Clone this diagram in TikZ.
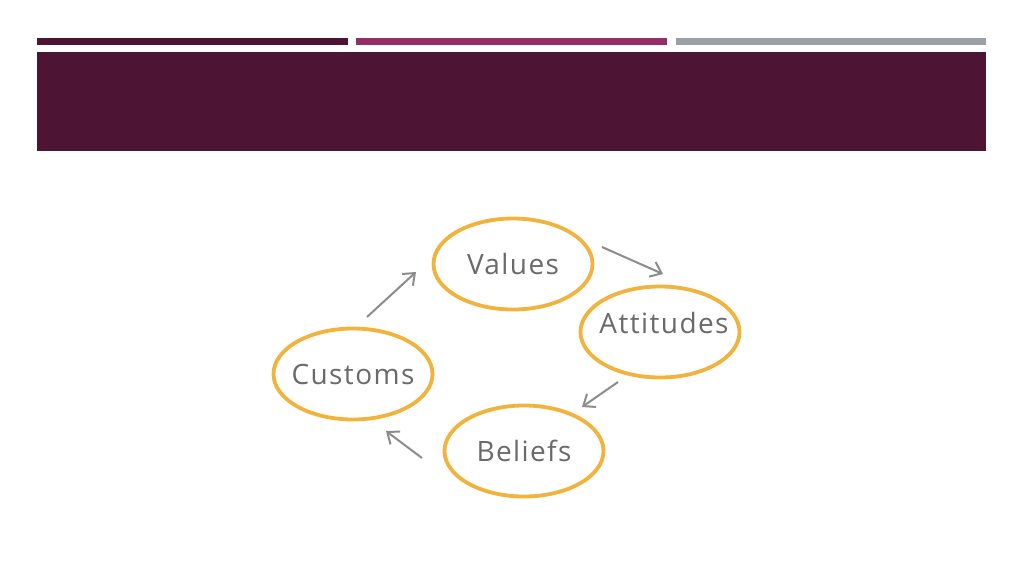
\documentclass[tikz,border=0pt]{standalone}
\usepackage{fontspec}
\setmainfont{Open Sans}[LetterSpace=5]
\usetikzlibrary{arrows.meta,shapes.geometric}
\definecolor{plum}{HTML}{4D1434}
\definecolor{berry}{HTML}{962D63}
\definecolor{slate}{HTML}{9AA0A3}
\definecolor{ring}{HTML}{F2B33D}
\definecolor{txt}{HTML}{6A6A6A}
\definecolor{arr}{HTML}{8C8C8C}
\tikzset{
  bubble/.style={ellipse, draw=ring, line width=3.8pt, minimum width=159pt, minimum height=91pt,
    inner xsep=-20pt, inner ysep=0pt, font=\fontsize{28}{30}\selectfont, text=txt},
  flow/.style={draw=arr, line width=2pt, -{Straight Barb[length=10pt,width=16pt,line width=2pt]}},
}
\begin{document}
\begin{tikzpicture}[x=1pt,y=-1pt]
\useasboundingbox (0,0) rectangle (1024,576);
\fill[white] (0,0) rectangle (1024,576);
\fill[plum] (37,38) rectangle (348,45);
\fill[berry] (356,38) rectangle (667,45);
\fill[slate] (676,38) rectangle (986,45);
\fill[plum] (37,52) rectangle (986,151);
\node[bubble] (val) at (513,264) {Values};
\node[bubble] (att) at (660,332) {};
\node[text=txt, font=\fontsize{28}{30}\selectfont, inner sep=0pt] (attl) at (664,323) {Attitudes};
\node[bubble] (bel) at (524,451) {Beliefs};
\node[bubble] (cus) at (353,374) {Customs};
\coordinate (a1) at (367,317); \coordinate (b1) at (416,272);
\coordinate (a2) at (602,247); \coordinate (b2) at (663,274);
\coordinate (a3) at (618,382); \coordinate (b3) at (582,407);
\coordinate (a4) at (422,458); \coordinate (b4) at (386,431);
\draw[flow] (a1) -- (b1);
\draw[flow] (a2) -- (b2);
\draw[flow] (a3) -- (b3);
\draw[flow] (a4) -- (b4);
\end{tikzpicture}
\end{document}
